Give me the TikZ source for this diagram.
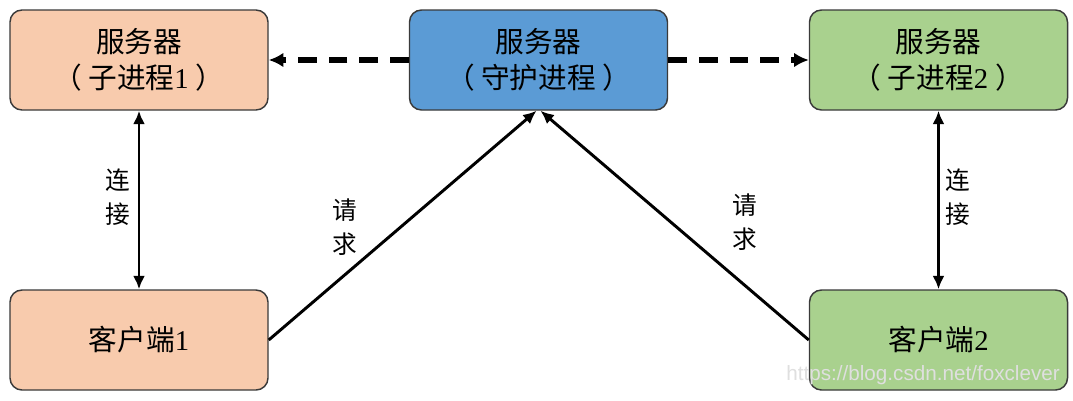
\documentclass[tikz,border=0pt]{standalone}
\usepackage{fontspec}
\setmainfont{Liberation Serif}
\newfontfamily\cjk{Noto Sans CJK SC}
\newfontfamily\wmfont{Liberation Sans}
\usetikzlibrary{arrows.meta}
\definecolor{orangefill}{HTML}{F8CBAD}
\definecolor{bluefill}{HTML}{5B9BD5}
\definecolor{greenfill}{HTML}{A9D18E}
\definecolor{boxline}{HTML}{3A3A3A}
\tikzset{
  box/.style={draw=boxline, line width=1.1pt, rounded corners=9pt,
    minimum width=193.5pt, minimum height=75pt, align=center,
    font=\fontsize{21.5}{27}\selectfont, inner sep=0pt},
  conn/.style={line width=2.2pt, -{Latex[length=10pt,width=9pt]}},
  biconn/.style={line width=2.2pt, {Latex[length=10pt,width=9pt]}-{Latex[length=10pt,width=9pt]}},
  dconn/.style={line width=3.8pt, dash pattern=on 14pt off 9pt, -{Latex[length=11pt,width=11pt]}},
  lab/.style={font=\cjk\fontsize{18.5}{25}\selectfont, align=center, inner sep=0pt}
}
\begin{document}
\begin{tikzpicture}[x=0.75pt, y=-0.75pt]
\useasboundingbox[fill=white] (0,0) rectangle (1073,400);
\node[box, fill=orangefill] (s1) at (139,60) {{\cjk 服务器}\\{\cjk （ 子进程}1 {\cjk ）}};
\node[box, fill=bluefill] (d) at (538.5,60) {{\cjk 服务器}\\{\cjk （ 守护进程 ）}};
\node[box, fill=greenfill] (s2) at (938.5,60) {{\cjk 服务器}\\{\cjk （ 子进程}2 {\cjk ）}};
\node[box, fill=orangefill] (c1) at (139,340) {{\cjk 客户端}1};
\node[box, fill=greenfill] (c2) at (938.5,340) {{\cjk 客户端}2};
\coordinate (dt) at ([xshift=-1.5pt]d.south);
\coordinate (dt2) at ([xshift=1.5pt]d.south);
\draw[dconn] (d.west) -- (s1.east);
\draw[dconn] (d.east) -- (s2.west);
\draw[biconn] (s1.south) -- (c1.north);
\draw[biconn] (s2.south) -- (c2.north);
\draw[conn] (c1.east) -- (dt);
\draw[conn] (c2.west) -- (dt2);
\node[lab] (l1) at (118,197) {连\\接};
\node[lab] (l2) at (958,197) {连\\接};
\node[lab] (l3) at (345,227) {请\\求};
\node[lab] (l4) at (745,222) {请\\求};
\node[font=\wmfont\fontsize{15.5}{18}\selectfont, text=white!75!gray, anchor=east, inner sep=0pt] (wm) at (1060,375) {https://blog.csdn.net/foxclever};
\end{tikzpicture}
\end{document}
